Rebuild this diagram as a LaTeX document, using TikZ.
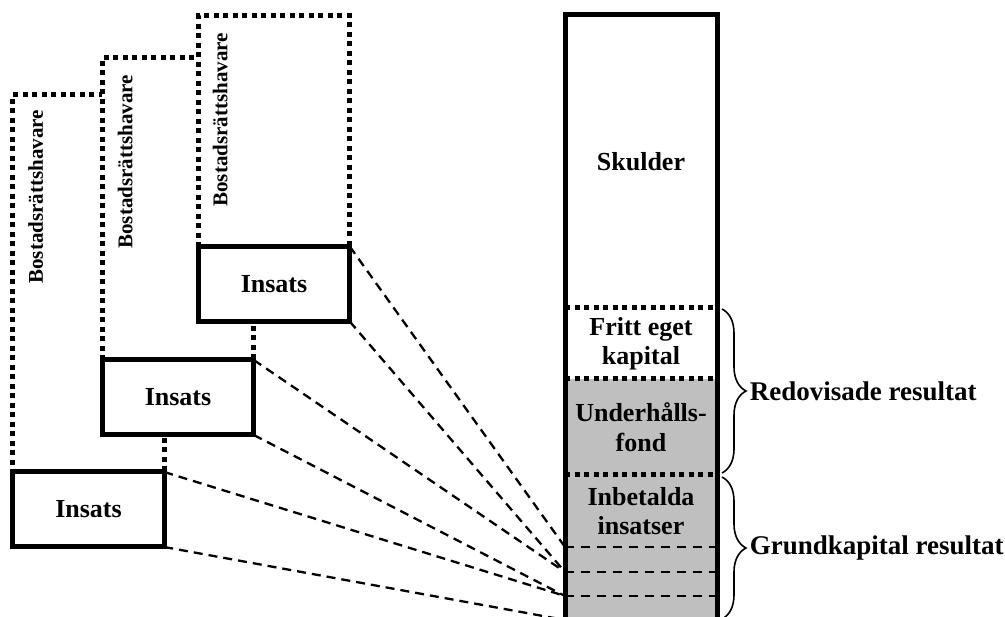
\documentclass[tikz,border=0pt]{standalone}
\usepackage{fontspec}
\setmainfont{Liberation Serif}
\usepackage{tikz}
\usetikzlibrary{positioning,decorations.pathreplacing}
\tikzset{
    ownerbox/.style={
        draw,
        line width=5pt,
        dash pattern=on 5pt off 4.5pt,
        fill=white,
        minimum width=151.5pt,
        inner sep=0pt,
        outer sep=0pt
    },
    ownerlabel/.style={
        rotate=90,
        anchor=east,
        inner sep=0pt,
        font=\fontsize{21}{24}\selectfont\bfseries
    },
    insatsbox/.style={
        draw,
        line width=5pt,
        fill=white,
        minimum width=151.5pt,
        minimum height=75pt,
        inner sep=0pt,
        outer sep=0pt,
        font=\fontsize{26}{29.5}\selectfont\bfseries
    },
    colpart/.style={
        fill=white,
        minimum width=152pt,
        inner sep=0pt,
        outer sep=0pt,
        align=center,
        font=\fontsize{26}{29.5}\selectfont\bfseries
    },
    paidpart/.style={
        colpart,
        fill=black!25
    },
    frame/.style={
        line width=5pt
    },
    dotsep/.style={
        line width=5pt,
        dash pattern=on 5pt off 4.5pt
    },
    cutline/.style={
        line width=2.5pt,
        dash pattern=on 9pt off 7pt
    },
    link/.style={
        line width=2.3pt,
        dash pattern=on 9pt off 6pt
    },
    bracket/.style={
        decorate,
        decoration={brace, amplitude=24pt},
        line width=1.6pt
    },
    bracelabel/.style={
        midway,
        right=24pt,
        inner sep=3pt,
        font=\fontsize{27}{30}\selectfont\bfseries
    }
}

\begin{document}
\begin{tikzpicture}[x=1pt, y=-1pt]
        \path[use as bounding box] (0,0) rectangle (1005,617);
        \clip (0,0) rectangle (1005,617);

        \node[ownerbox, minimum height=377pt] (own1) at (88.5,283.5) {};
        \node[ownerlabel] (lab1) at ([xshift=23pt,yshift=-15pt]own1.north west) {Bostadsrättshavare};
        \node[insatsbox, below=0pt of own1] (ins1) {Insats};

        \node[ownerbox, minimum height=302pt] (own2) at (178,209) {};
        \node[ownerlabel] (lab2) at ([xshift=23pt,yshift=-17pt]own2.north west) {Bostadsrättshavare};
        \node[insatsbox, below=0pt of own2] (ins2) {Insats};

        \node[ownerbox, minimum height=230.5pt] (own3) at (274,131.25) {};
        \node[ownerlabel] (lab3) at ([xshift=22pt,yshift=-17pt]own3.north west) {Bostadsrättshavare};
        \node[insatsbox, below=0pt of own3] (ins3) {Insats};

        \node[colpart, minimum height=293pt] (skuld) at (641,161.5) {Skulder};
        \node[colpart, minimum height=71pt, below=0pt of skuld] (fritt) {Fritt eget\\kapital};
        \node[paidpart, minimum height=96pt, below=0pt of fritt] (fond) {Underhålls-\\fond};
        \node[paidpart, minimum height=72pt, below=0pt of fond] (inbet) {Inbetalda\\insatser};
        \node[paidpart, minimum height=25pt, below=0pt of inbet] (share1) {};
        \node[paidpart, minimum height=24pt, below=0pt of share1] (share2) {};
        \node[paidpart, minimum height=24pt, below=0pt of share2] (share3) {};

        \draw[dotsep] (fritt.north west) -- (fritt.north east);
        \draw[dotsep] (fond.north west) -- (fond.north east);
        \draw[dotsep] (inbet.north west) -- (inbet.north east);
        \foreach \s in {share1,share2,share3}
            \draw[cutline] (\s.north west) -- (\s.north east);

        \draw[link] (ins3.north east) -- (share1.north west);
        \draw[link] (ins3.south east) -- (share2.north west);
        \draw[link] (ins2.north east) -- (share2.north west);
        \draw[link] (ins2.south east) -- (share3.north west);
        \draw[link] (ins1.north east) -- (share3.north west);
        \draw[link] (ins1.south east) -- (share3.south west);

        \draw[frame] (share3.south west) -- (skuld.north west) -- (skuld.north east) -- (share3.south east);

        \draw[bracket] ([xshift=5pt,yshift=-1pt]fritt.north east) -- node[bracelabel] {Redovisade resultat} ([xshift=5pt,yshift=2pt]fond.south east);
        \draw[bracket] ([xshift=5pt,yshift=-2pt]inbet.north east) -- node[bracelabel] {Grundkapital resultat} ([xshift=5pt,yshift=1pt]share3.south east);
    \end{tikzpicture}
\end{document}
